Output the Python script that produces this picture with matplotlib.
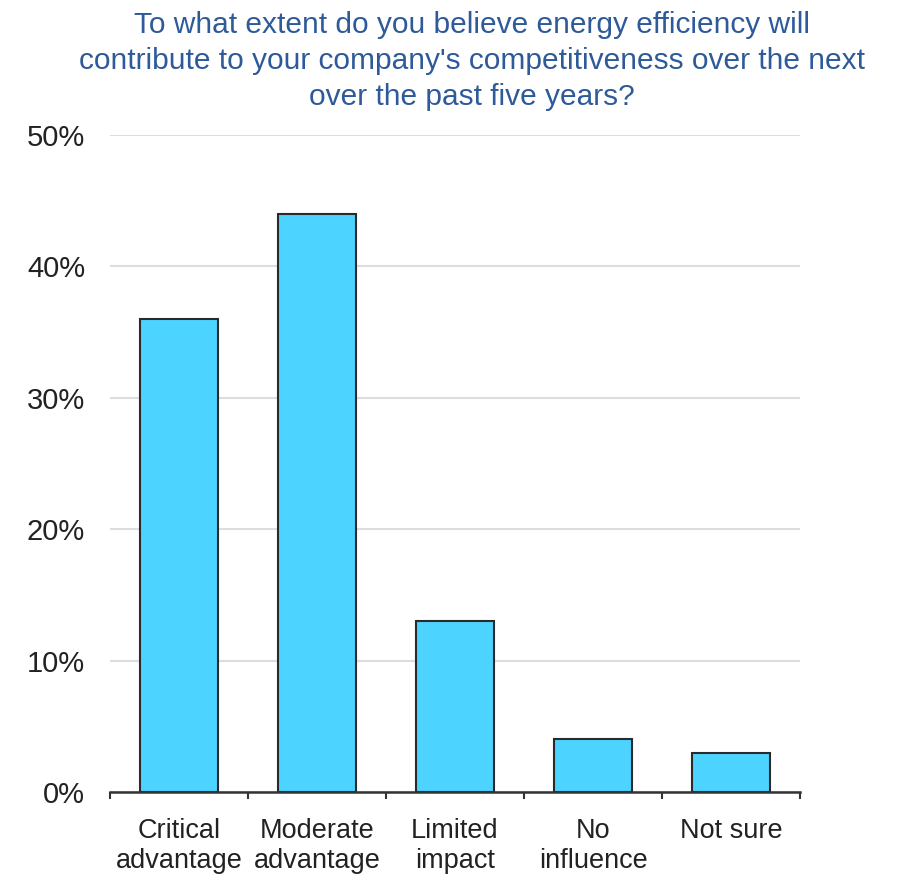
import matplotlib
matplotlib.use("Agg")
import matplotlib.pyplot as plt
from matplotlib.ticker import FixedLocator, NullFormatter

categories = ["Critical\nadvantage", "Moderate\nadvantage", "Limited\nimpact", "No\ninfluence", "Not sure"]
values = [36, 44, 13, 4, 3]
yticks = [0, 10, 20, 30, 40, 50]
ytick_labels = ["0%", "10%", "20%", "30%", "40%", "50%"]
title = ("To what extent do you believe energy efficiency will\n"
         "contribute to your company's competitiveness over the next\n"
         "over the past five years?")

plt.rcParams['font.family'] = ['Liberation Sans', 'DejaVu Sans']

fig = plt.figure(figsize=(8.99, 8.75), dpi=100)
ax = fig.add_axes([0.1224, 0.0949, 0.7675, 0.7508])

x = list(range(len(categories)))
ax.bar(x, values, width=0.57, color="#4DD3FF", edgecolor="#2a2a2a", linewidth=1.5, zorder=3)

ax.set_xlim(-0.5, len(categories) - 0.5)
ax.set_ylim(0, 50)
ax.set_yticks(yticks)
ax.set_yticklabels(ytick_labels, fontsize=21, color="#222222")
ax.yaxis.grid(True, color="#DDDDDD", linewidth=1.5, zorder=0)
ax.tick_params(axis='y', length=0, pad=18)

ax.set_xticks(x)
ax.set_xticklabels(categories, fontsize=19.5, color="#222222", linespacing=1.2)
ax.tick_params(axis='x', which='major', length=0, pad=18.5)
ax.xaxis.set_minor_locator(FixedLocator([i - 0.5 for i in range(len(categories) + 1)]))
ax.xaxis.set_minor_formatter(NullFormatter())
ax.tick_params(axis='x', which='minor', length=5, width=1.5, color="#333333", direction='out')

for s in ['left', 'right', 'top']:
    ax.spines[s].set_visible(False)
ax.spines['bottom'].set_color("#333333")
ax.spines['bottom'].set_linewidth(1.8)
ax.spines['bottom'].set_zorder(4)

fig.text(0.525, 0.987, title, ha='center', va='top', fontsize=21.5, color="#2E5A9A", linespacing=1.36)

fig.savefig("out.png", dpi=100)
